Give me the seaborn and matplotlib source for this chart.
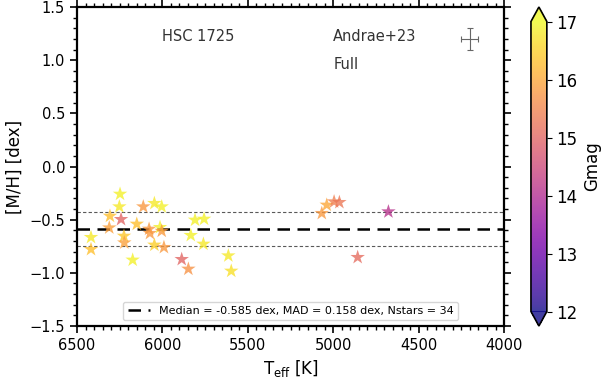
import numpy as np
import pandas as pd
import matplotlib
matplotlib.use("Agg")
import matplotlib.pyplot as plt
from matplotlib.colors import ListedColormap, Normalize
from matplotlib.cm import ScalarMappable
from matplotlib.ticker import MultipleLocator
import seaborn as sns

teff = [6418, 6418, 6248, 6252, 6307, 6242, 6311, 6225, 6223, 6174,
        6112, 6150, 6078, 6073, 6047, 6004, 6014, 6004, 6047, 5991,
        5887, 5848, 5834, 5809, 5756, 5760, 5614, 5597,
        5067, 5038, 4995, 4964, 4677, 4857]
mh = [-0.666, -0.779, -0.259, -0.378, -0.466, -0.497, -0.576, -0.654, -0.717, -0.879,
      -0.378, -0.541, -0.588, -0.628, -0.346, -0.378, -0.572, -0.607, -0.738, -0.760,
      -0.873, -0.964, -0.647, -0.503, -0.494, -0.729, -0.839, -0.983,
      -0.440, -0.362, -0.331, -0.337, -0.425, -0.854]
gmag = [16.8, 16.3, 16.9, 16.8, 16.3, 15.0, 15.9, 16.4, 15.9, 16.9,
        15.8, 16.3, 15.8, 15.8, 16.8, 16.9, 16.9, 15.8, 16.5, 15.8,
        15.0, 15.7, 16.9, 16.9, 16.9, 16.8, 16.8, 16.7,
        15.8, 16.0, 15.4, 15.3, 14.1, 15.1]

median = -0.585
mad = 0.158
err_teff, err_mh = 4200, 1.2
err_x, err_y = 50, 0.1

sns.set_style("ticks", rc={"axes.edgecolor": "black", "text.color": "black",
                           "axes.labelcolor": "black", "xtick.color": "black",
                           "ytick.color": "black"})
plt.rcParams["font.family"] = ["DejaVu Sans"]

df = pd.DataFrame({"Teff": teff, "MH": mh, "Gmag": gmag})

base = plt.cm.plasma(np.linspace(0, 1, 256))
base[:, 3] = 0.78
cmap = ListedColormap(base)
norm = Normalize(12, 17)

fig = plt.figure(figsize=(6.11, 3.82), dpi=100)
ax = fig.add_axes([0.126, 0.1466, 0.699, 0.835])
cax = fig.add_axes([0.869, 0.1466, 0.026, 0.835])

sns.scatterplot(data=df, x="Teff", y="MH", hue="Gmag", palette=cmap, hue_norm=norm,
                marker="*", s=120, linewidth=0, legend=False, ax=ax, zorder=3)

ax.axhline(median, color="black", ls="--", lw=1.8, dashes=(5, 3),
           label=f"Median = {median} dex, MAD = {mad} dex, Nstars = {len(teff)}")
ax.axhline(median + mad, color="0.35", ls="--", lw=0.8, dashes=(3, 2))
ax.axhline(median - mad, color="0.35", ls="--", lw=0.8, dashes=(3, 2))

ax.errorbar([err_teff], [err_mh], xerr=[err_x], yerr=[err_y], color="0.4",
            lw=0.8, capsize=2, capthick=0.8)

ax.set_xlim(6500, 4000)
ax.set_ylim(-1.5, 1.5)
ax.xaxis.set_major_locator(MultipleLocator(500))
ax.xaxis.set_minor_locator(MultipleLocator(50))
ax.yaxis.set_major_locator(MultipleLocator(0.5))
ax.yaxis.set_minor_locator(MultipleLocator(0.1))
ax.tick_params(which="both", direction="out", top=True, right=True, labelsize=10.5,
               color="black", labelcolor="black")
ax.tick_params(which="major", length=5, width=1.2)
ax.tick_params(which="minor", length=3, width=1)
for sp in ax.spines.values():
    sp.set_linewidth(1.6)
    sp.set_color("black")

ax.set_xlabel(r"T$_{\rm eff}$ [K]", fontsize=12)
ax.set_ylabel("[M/H] [dex]", fontsize=12)

ax.text(0.2, 0.895, "HSC 1725", transform=ax.transAxes, fontsize=10.5, color="0.2")
ax.text(0.6, 0.895, "Andrae+23", transform=ax.transAxes, fontsize=10.5, color="0.2")
ax.text(0.6, 0.805, "Full", transform=ax.transAxes, fontsize=10.5, color="0.2")

ax.legend(loc="lower center", fontsize=8, handlelength=2)

sm = ScalarMappable(norm=norm, cmap=cmap)
cbar = fig.colorbar(sm, cax=cax, extend="both")
cbar.set_label("Gmag", fontsize=12)
cbar.ax.tick_params(labelsize=12, color="black", labelcolor="black")
cbar.outline.set_linewidth(1.2)
cbar.outline.set_edgecolor("black")

fig.savefig("out.png", dpi=100)
